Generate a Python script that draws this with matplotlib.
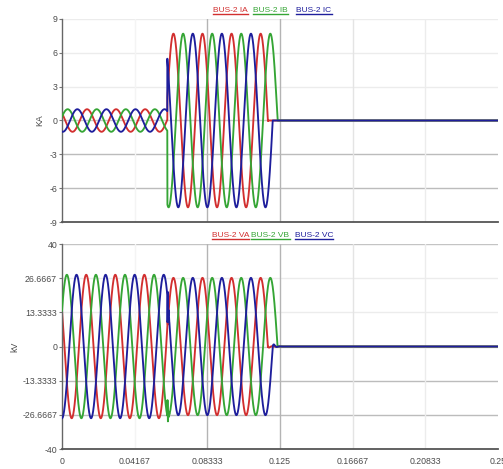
import numpy as np
import matplotlib
matplotlib.use("Agg")
import matplotlib.pyplot as plt
from matplotlib.lines import Line2D

# ---- three-phase record at BUS-2: fault inception and breaker clearing ----
PHASES = ["A", "B", "C"]
PHASE_COLORS = ["#d22f2f", "#35a535", "#1e1e9c"]
PHASE_ANGLE_DEG = [60.0, -60.0, 180.0]      # phase angle of each phase at t = 0
FREQ_HZ = 60.0
T_FAULT = 0.0604                             # fault inception (s)
T_CLEAR = [0.1181, 0.1236, 0.1208]           # pole clearing at current zero (s)

I_PRE_KA = 1.0
I_PRE_LAG_DEG = 10.0
I_FAULT_KA = 7.7

V_PRE_KV = 28.0
V_FAULT_KV = 26.8
V_INCEPTION_RING_KV = [3.0, 7.0, -12.0]
V_CLEAR_RING_KV = [-0.8, 0.0, 1.5]

T_END = 0.25
X_TICKS = [0, 0.04167, 0.08333, 0.125, 0.16667, 0.20833, 0.25]
X_TICK_LABELS = ["0", "0.04167", "0.08333", "0.125", "0.16667", "0.20833", "0.25"]
I_TICKS = [-9, -6, -3, 0, 3, 6, 9]
I_TICK_LABELS = ["-9", "-6", "-3", "0", "3", "6", "9"]
V_TICKS = [-40, -26.6667, -13.3333, 0, 13.3333, 26.6667, 40]
V_TICK_LABELS = ["-40", "-26.6667", "-13.3333", "0", "13.3333", "26.6667", "40"]

W, H = 503, 469
FONT = "Liberation Sans"
TXT = "#4a4a4a"

t = np.linspace(0.0, T_END, 10001)
w = 2 * np.pi * FREQ_HZ


def ring(t0, amp, f_r=2200.0, tau=0.00035):
    dt = t - t0
    out = amp * np.exp(-np.clip(dt, 0, None) / tau) * np.sin(2 * np.pi * f_r * dt)
    return np.where(dt > 0, out, 0.0)


currents, voltages = [], []
for k in range(3):
    ph = np.deg2rad(PHASE_ANGLE_DEG[k])
    i_pre = I_PRE_KA * np.cos(w * t + ph - np.deg2rad(I_PRE_LAG_DEG))
    i_flt = I_FAULT_KA * np.cos(w * t + ph)
    currents.append(np.where(t < T_FAULT, i_pre,
                             np.where(t < T_CLEAR[k], i_flt, 0.0)))

    v_pre = V_PRE_KV * np.cos(w * t + ph)
    v_flt = V_FAULT_KV * np.cos(w * t + ph) + ring(T_FAULT, V_INCEPTION_RING_KV[k])
    v_off = ring(T_CLEAR[k], V_CLEAR_RING_KV[k], f_r=300.0, tau=0.0012)
    voltages.append(np.where(t < T_FAULT, v_pre,
                             np.where(t < T_CLEAR[k], v_flt, v_off)))

fig = plt.figure(figsize=(W / 100, H / 100), dpi=100)
fig.patch.set_facecolor("white")


def px_axes(left, top, right, bottom):
    return fig.add_axes([left / W, 1 - bottom / H, (right - left) / W, (bottom - top) / H])


ax_i = px_axes(62, 19, 498, 222)
ax_v = px_axes(62, 244, 498, 449)

# horizontal grid: faint above zero, grey below
I_GRID = {9: "#ececec", 6: "#ececec", 3: "#ececec", 0: "#c8c8c8", -3: "#bcbcbc", -6: "#bcbcbc"}
V_GRID = {40: "#c4c4c4", 26.6667: "#ececec", 13.3333: "#ececec", 0: "#c8c8c8",
          -13.3333: "#bcbcbc", -26.6667: "#bcbcbc"}
X_GRID = {0.04167: "#f4f4f4", 0.08333: "#b4b4b4", 0.125: "#b4b4b4",
          0.16667: "#e4e4e4", 0.20833: "#ececec"}

for ax, grid, ticks, labels, lim in [
    (ax_i, I_GRID, I_TICKS, I_TICK_LABELS, 9),
    (ax_v, V_GRID, V_TICKS, V_TICK_LABELS, 40),
]:
    ax.set_xlim(0, T_END)
    ax.set_ylim(-lim, lim)
    for y, c in grid.items():
        ax.axhline(y, color=c, lw=1.0, zorder=0)
    for x, c in X_GRID.items():
        ax.axvline(x, color=c, lw=1.0, zorder=0)
    ax.set_yticks(ticks)
    ax.set_yticklabels(labels, fontsize=6.3, color=TXT, family=FONT)
    ax.set_xticks(X_TICKS)
    ax.tick_params(axis="y", length=2.5, width=0.8, color="#777777", pad=1)
    ax.tick_params(axis="x", length=0, pad=6)
    for s in ("top", "right"):
        ax.spines[s].set_visible(False)
    ax.spines["left"].set_color("#666666")
    ax.spines["left"].set_linewidth(1.0)
    ax.spines["bottom"].set_color("#555555")
    ax.spines["bottom"].set_linewidth(1.3)

ax_i.set_xticklabels([])
ax_v.set_xticklabels(X_TICK_LABELS, fontsize=6.3, color=TXT, family=FONT)

for k in range(3):
    ax_i.plot(t, currents[k], color=PHASE_COLORS[k], lw=1.35, zorder=2 + k)
    ax_v.plot(t, voltages[k], color=PHASE_COLORS[k], lw=1.35, zorder=2 + k)

fig.text(40 / W, 1 - 120 / H, "KA", rotation=90, ha="center", va="center",
         fontsize=6.3, color=TXT, family=FONT)
fig.text(15 / W, 1 - 347 / H, "kV", rotation=90, ha="center", va="center",
         fontsize=6.3, color=TXT, family=FONT)

# underlined series titles above each panel
TITLE_X = [230.5, 270.5, 314.0]
TITLES = [("BUS-2 I", 10, 13.6), ("BUS-2 V", 235.5, 239.0)]
renderer = fig.canvas.get_renderer()
for prefix, ty, uy in TITLES:
    for k in range(3):
        txt = fig.text(TITLE_X[k] / W, 1 - ty / H, prefix + PHASES[k],
                       ha="center", va="center", fontsize=6.0,
                       color=PHASE_COLORS[k], family=FONT)
        bb = txt.get_window_extent(renderer)
        fig.add_artist(Line2D([bb.x0 / W, bb.x1 / W], [1 - uy / H, 1 - uy / H],
                              transform=fig.transFigure, color=PHASE_COLORS[k], lw=1.0))

fig.savefig("out.png", dpi=100, facecolor="white")
